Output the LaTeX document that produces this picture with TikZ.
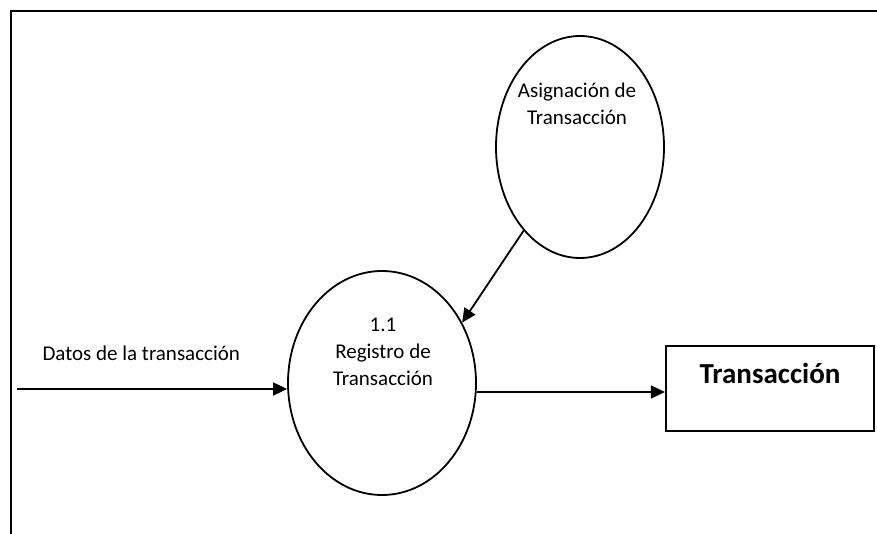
\documentclass[tikz,border=0pt]{standalone}
\usepackage{fontspec}
\setmainfont{Carlito}
\usepackage{tikz}
\usetikzlibrary{shapes,positioning,arrows.meta}
\tikzset{
  flow/.style={-{Triangle[length=14pt,width=13pt]},line width=1.8pt},
  proc/.style={ellipse,draw=black,line width=1.8pt,inner sep=0pt,
   minimum width=168pt,minimum height=222pt},
  regproc/.style={proc,minimum width=188pt,minimum height=224pt},
  ptext/.style={align=center,inner sep=0pt,font=\fontsize{21}{27}\selectfont},
  entity/.style={
  rectangle,
  draw=black,
  line width=2.2pt,
  minimum width=208pt,
  minimum height=85pt,
  text height=20pt,
  text depth=31pt,
  font=\fontsize{29}{35}\selectfont\bfseries
  }
}
\begin{document}
\begin{tikzpicture}[x=1pt,y=-1pt]
  \useasboundingbox (0,0) rectangle (877,534);
  % marco
  \draw[line width=2.4pt] (877,11) -- (11,11);
  \draw[line width=2pt] (11,10) -- (11,534);

  \node [proc] (p0) at (580,147) {};
  \node [ptext] (t0) at (577,104) {Asignación de\\Transacción};
  \node [regproc] (p1) at (382,383) {};
  \node [ptext] (t1) at (383,352) {1.1\\Registro de\\Transacción};
  \node [entity,right=188pt of p1,yshift=-5.5pt] (e0) {Transacción};

  \coordinate (src) at (17,389);
  \draw[flow] (src) -- (src -| p1.west) node[ptext,pos=.46,above=27pt]{Datos de la transacción};
  \draw[flow] ([yshift=-3.5pt]e0.west -| p1.east) -- ([yshift=-3.5pt]e0.west);
  \draw[flow] (p0.236) -- (p1.37);
\end{tikzpicture}
\end{document}
